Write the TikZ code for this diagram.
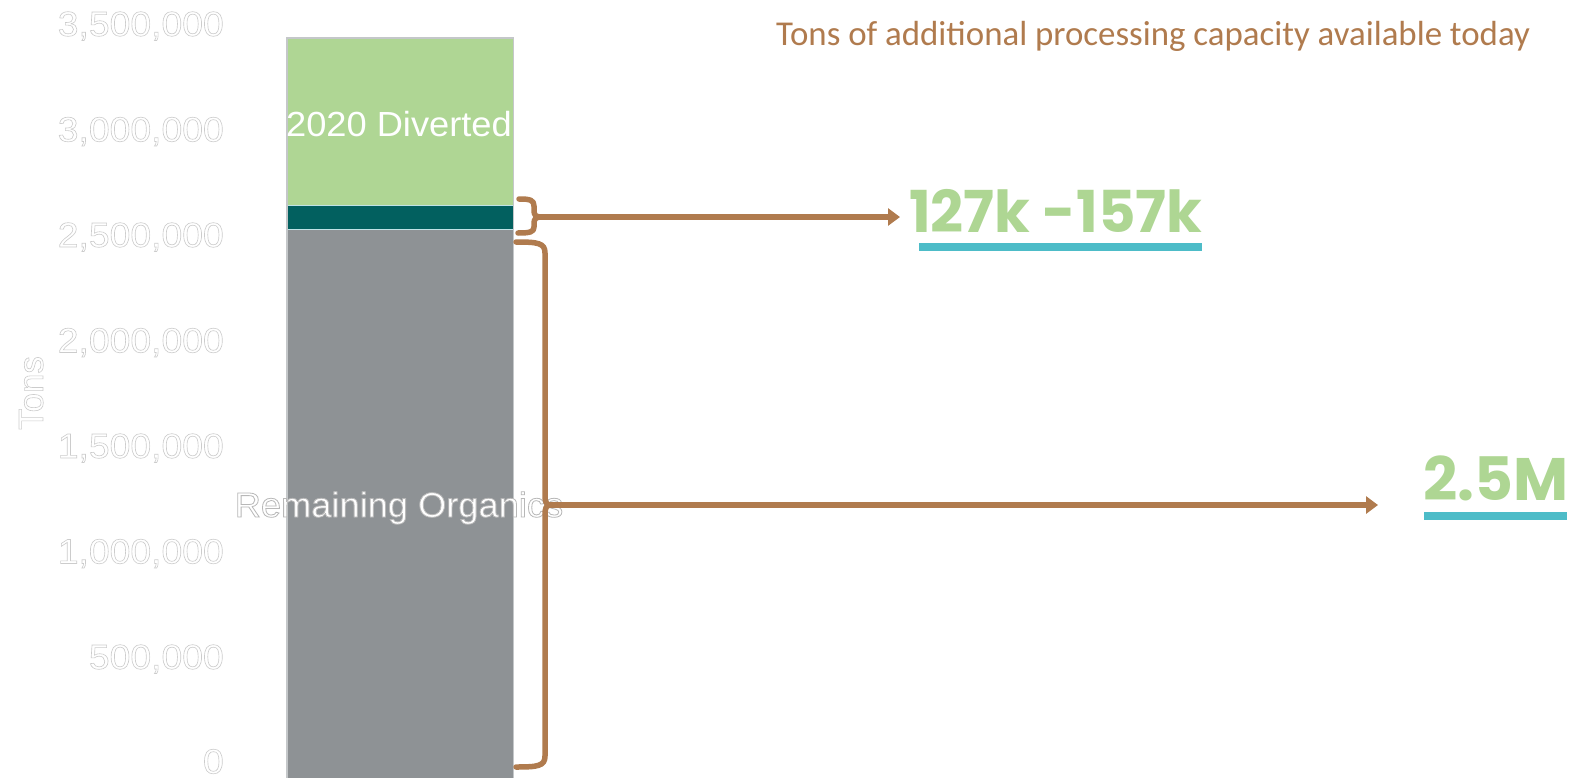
\documentclass[tikz,border=0pt]{standalone}
\usepackage{fontspec}
\setmainfont{Liberation Sans}
\newfontfamily\titlefont{Carlito}
\newfontfamily\numfont{Poppins}
\usetikzlibrary{arrows.meta}
\definecolor{barGreen}{HTML}{AFD694}
\definecolor{barTeal}{HTML}{02605F}
\definecolor{barGray}{HTML}{8E9295}
\definecolor{barEdge}{HTML}{C4C7C9}
\definecolor{segLine}{HTML}{BFE3E6}
\definecolor{braceBrown}{HTML}{B07B4E}
\definecolor{ulCyan}{HTML}{4DBCC8}
\definecolor{numGreen}{HTML}{AED693}
\newcommand\outl[1]{\special{pdf:literal direct 2 Tr 0.6 w 0.80 0.80 0.80 RG}#1\special{pdf:literal direct 0 Tr}}
\newcommand\outlb[1]{\special{pdf:literal direct 2 Tr 0.8 w 0.72 0.72 0.72 RG}#1\special{pdf:literal direct 0 Tr}}
\tikzset{
  axislab/.style={inner sep=0pt, text=white, xscale=1.07, font=\fontsize{35}{40}\selectfont},
  barlab/.style={inner sep=0pt, text=white, xscale=1.04, font=\fontsize{35}{40}\selectfont},
  brace/.style={draw=braceBrown, line width=5.5bp, line cap=round, line join=round},
  arr/.style={draw=braceBrown, line width=6bp, -{Triangle[length=12bp,width=17bp]}},
  uline/.style={draw=ulCyan, line width=8bp},
  bignum/.style={inner sep=0pt, text=numGreen, anchor=base west}
}
\begin{document}
\begin{tikzpicture}[x=1bp,y=-1bp]
\useasboundingbox (0,0) rectangle (1575,778);
\fill[white] (0,0) rectangle (1575,778);
% bar segments
\node[fill=barGreen, inner sep=0pt, minimum width=226bp, minimum height=167bp, anchor=north west] (green) at (287,38) {};
\node[fill=barTeal, inner sep=0pt, minimum width=226bp, minimum height=24bp, anchor=north west] (teal) at (287,205) {};
\node[fill=barGray, inner sep=0pt, minimum width=226bp, minimum height=549bp, anchor=north west] (gray) at (287,229) {};
\draw[segLine, line width=1bp] (teal.north west) -- (teal.north east);
\draw[segLine, line width=1bp] (teal.south west) -- (teal.south east);
\draw[barEdge, line width=1.2bp] (gray.south west) -- (green.north west) -- (green.north east) -- (gray.south east);
% axis labels
\foreach \v/\y in {{3,500,000}/36,{3,000,000}/141.5,{2,500,000}/247,{2,000,000}/352.5,{1,500,000}/458,{1,000,000}/563.5,{500,000}/669,{0}/773.5}
  \node[axislab, anchor=base east] at (224,\y) {\outl{\v}};
\node[axislab, xscale=1/1.07, rotate=90, anchor=base] (ylab) at (43,393) {\outl{Tons}};
% bar labels
\node[barlab, anchor=base] (divlab) at (399,136.5) {2020 Diverted};
\node[barlab, anchor=base] (remlab) at (399,517) {\outlb{Remaining Organics}};
% title
\node[inner sep=0pt, anchor=base west, text=braceBrown, font=\titlefont\fontsize{35}{40}\selectfont] (title) at (776,46) {Tons of additional processing capacity available today};
% braces
\coordinate (tipA) at (541,217);
\coordinate (tipB) at (551,505);
\draw[brace] (519,199) .. controls (530,199) and (534,200) .. (534,206) -- (534,211)
  .. controls (534,215) and (536,217) .. (tipA)
  .. controls (536,217) and (534,219) .. (534,223) -- (534,227)
  .. controls (534,232) and (530,233) .. (518,233);
\draw[brace] (516,242) .. controls (538,242) and (545,243) .. (545,253) -- (545,495)
  .. controls (545,502) and (546,505) .. (tipB)
  .. controls (546,505) and (545,508) .. (545,515) -- (545,756)
  .. controls (545,766) and (538,767) .. (516,767);
% numbers
\node[bignum] (numA) at (909,232) {\resizebox{293bp}{!}{\numfont\bfseries 127k -157k}};
\node[bignum] (numB) at (1423,500) {\resizebox{145bp}{!}{\numfont\bfseries 2.5M}};
\coordinate (endA) at (900,217);
\coordinate (endB) at (1378,505);
\draw[arr] (tipA) -- (endA);
\draw[arr] (tipB) -- (endB);
\draw[uline] (919,247) -- (1202,247);
\draw[uline] (1424,516) -- (1567,516);
\end{tikzpicture}
\end{document}
